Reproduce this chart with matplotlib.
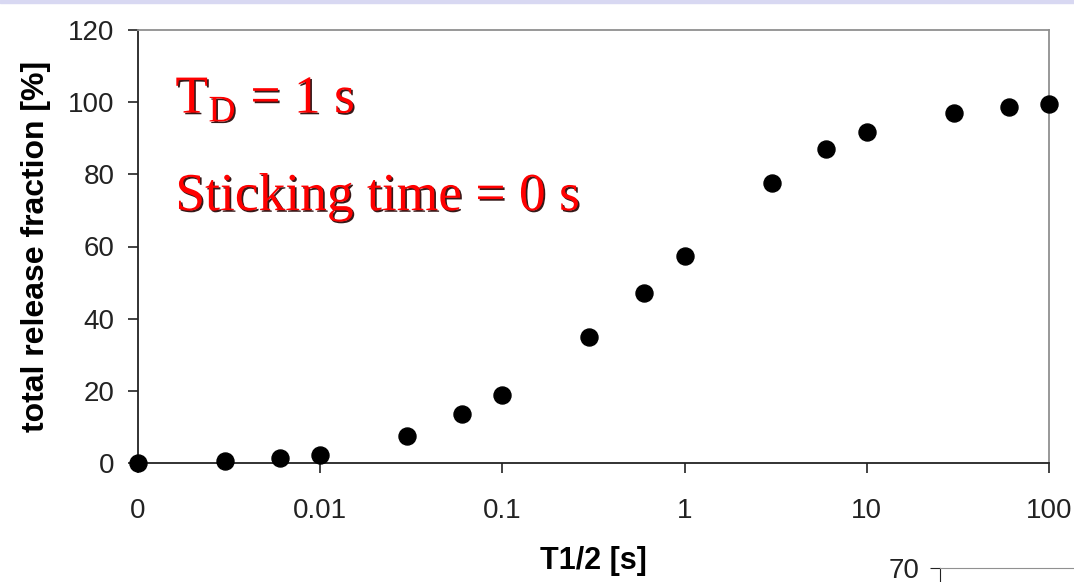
import numpy as np
import matplotlib.pyplot as plt
import matplotlib.patheffects as pe
from matplotlib.patches import Rectangle

# half-life values [s]; the first point sits on the "0" tick
t_half = [0.001, 0.003, 0.006, 0.01, 0.03, 0.06, 0.1, 0.3, 0.6, 1, 3, 6, 10, 30, 60, 100]
release = [0.0, 0.5, 1.4, 2.2, 7.5, 13.6, 18.8, 34.9, 47.1, 57.4, 77.6, 87.0, 91.7, 97.0, 98.7, 99.5]

x_ticks = [0.001, 0.01, 0.1, 1, 10, 100]
x_tick_labels = ['0', '0.01', '0.1', '1', '10', '100']
y_ticks = [0, 20, 40, 60, 80, 100, 120]

plt.rcParams['font.family'] = ['Liberation Sans', 'DejaVu Sans']

fig = plt.figure(figsize=(10.74, 5.82), dpi=100)
fig.patches.append(Rectangle((0, 0.995), 1, 0.005, transform=fig.transFigure,
                             color='#d8d8f2', zorder=0))

ax = fig.add_axes([138 / 1074, 1 - 463 / 582, (1049 - 138) / 1074, (463 - 30) / 582])
ax.scatter(t_half, release, s=150, color='black', zorder=5, clip_on=False)

ax.set_xscale('log')
ax.set_xlim(0.001, 100)
ax.set_ylim(0, 120)
ax.set_xticks(x_ticks)
ax.set_xticklabels(x_tick_labels)
ax.xaxis.set_minor_locator(plt.NullLocator())
ax.set_yticks(y_ticks)

ax.tick_params(axis='both', direction='out', length=7, width=1.2, labelsize=20,
               colors='#222222')
ax.tick_params(axis='x', pad=18)
ax.tick_params(axis='y', pad=10)

for s in ['left', 'bottom']:
    ax.spines[s].set_color('#222222')
    ax.spines[s].set_linewidth(1.3)
for s in ['top', 'right']:
    ax.spines[s].set_color('#909090')
    ax.spines[s].set_linewidth(1.3)

ax.set_xlabel('T1/2 [s]', fontsize=22, fontweight='bold', labelpad=16)
ax.set_ylabel('total release fraction [%]', fontsize=23, fontweight='bold', labelpad=12)

shadow = [pe.withSimplePatchShadow(offset=(1.2, -1.2), shadow_rgbFace='#200000', alpha=0.9)]
ax.text(0.041, 0.808, r'T$_\mathregular{D}$ = 1 s', transform=ax.transAxes,
        fontsize=38.5, color='#ff0000', family='Liberation Serif', path_effects=shadow)
ax.text(0.041, 0.584, 'Sticking time = 0 s', transform=ax.transAxes,
        fontsize=38.5, color='#ff0000', family='Liberation Serif', path_effects=shadow)

# fragment of the next chart in the bottom right corner
ax2 = fig.add_axes([940 / 1074, 0, (1074 - 940) / 1074, (582 - 568) / 582])
ax2.set_ylim(60, 70)
ax2.set_yticks([70])
ax2.set_xticks([])
ax2.tick_params(axis='y', direction='out', length=7, labelsize=20, colors='#222222', pad=8)
for s in ['right', 'bottom']:
    ax2.spines[s].set_visible(False)
ax2.spines['left'].set_color('#222222')
ax2.spines['top'].set_color('#909090')
ax2.patch.set_alpha(0)

fig.savefig('out.png', dpi=100)
